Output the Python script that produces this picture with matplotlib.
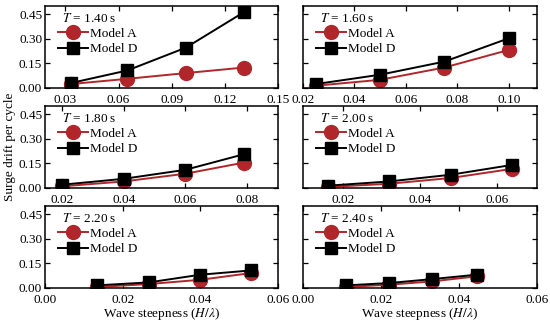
import matplotlib
matplotlib.use("Agg")
import matplotlib.pyplot as plt

plt.rcParams['font.family'] = ['Liberation Serif', 'DejaVu Serif']
plt.rcParams['mathtext.fontset'] = 'stix'

periods = ["1.40", "1.60", "1.80", "2.00", "2.20", "2.40"]

x_140 = [0.033, 0.065, 0.098, 0.131]
a_140 = [0.024, 0.056, 0.091, 0.125]
d_140 = [0.030, 0.107, 0.246, 0.464]

x_160 = [0.025, 0.050, 0.075, 0.100]
a_160 = [0.014, 0.050, 0.125, 0.232]
d_160 = [0.024, 0.081, 0.161, 0.303]

x_180 = [0.020, 0.040, 0.060, 0.079]
a_180 = [0.010, 0.040, 0.087, 0.155]
d_180 = [0.020, 0.056, 0.111, 0.206]

x_200 = [0.016, 0.032, 0.048, 0.064]
a_200 = [0.006, 0.026, 0.061, 0.117]
d_200 = [0.014, 0.040, 0.081, 0.141]

x_220 = [0.0133, 0.0267, 0.040, 0.053]
a_220 = [0.006, 0.024, 0.050, 0.091]
d_220 = [0.016, 0.034, 0.081, 0.107]

x_240 = [0.011, 0.022, 0.033, 0.0445]
a_240 = [0.006, 0.020, 0.040, 0.071]
d_240 = [0.016, 0.030, 0.054, 0.081]

xs = [x_140, x_160, x_180, x_200, x_220, x_240]
As = [a_140, a_160, a_180, a_200, a_220, a_240]
Ds = [d_140, d_160, d_180, d_200, d_220, d_240]

xlims = [(0.0185, 0.15), (0.02, 0.111), (0.0145, 0.09), (0.0096, 0.0704), (0.0, 0.06), (0.0, 0.06)]
xticks = [[0.03, 0.06, 0.09, 0.12, 0.15], [0.02, 0.04, 0.06, 0.08, 0.10],
          [0.02, 0.04, 0.06, 0.08], [0.02, 0.04, 0.06],
          [0.00, 0.02, 0.04, 0.06], [0.00, 0.02, 0.04, 0.06]]
yticks = [0.00, 0.15, 0.30, 0.45]

red = '#b0262b'
fig = plt.figure(figsize=(5.5, 3.24), dpi=100)
W, H = 550, 324
cols = [(45, 278), (303, 537)]
rows = [(6, 88), (106, 188), (206, 288)]
fs = 9.5

for i in range(6):
    r, c = divmod(i, 2)
    x0, x1 = cols[c]
    t0, b0 = rows[r]
    ax = fig.add_axes([x0 / W, 1 - b0 / H, (x1 - x0) / W, (b0 - t0) / H])
    ax.plot(xs[i], As[i], '-o', color=red, mfc=red, mec=red, ms=10, lw=1.4, label='Model A')
    ax.plot(xs[i], Ds[i], '-s', color='black', ms=9, lw=1.4, label='Model D')
    ax.set_xlim(*xlims[i])
    ax.set_ylim(0, 0.5)
    ax.set_xticks(xticks[i])
    ax.set_xticklabels([f"{v:.2f}" for v in xticks[i]], fontsize=fs)
    ax.set_yticks(yticks)
    if c == 0:
        ax.set_yticklabels([f"{v:.2f}" for v in yticks], fontsize=fs)
    else:
        ax.set_yticklabels([])
    ax.tick_params(axis='y', direction='in', right=True, length=3.5, width=0.9, pad=2)
    ax.tick_params(axis='x', direction='in', top=True, length=3.5, width=0.9, pad=4.5)
    for s in ax.spines.values():
        s.set_linewidth(1.1)
    leg = ax.legend(loc='upper left', bbox_to_anchor=(0.03, 1.0),
                    title=f"$T$ = {periods[i]} s", fontsize=fs,
                    title_fontsize=fs, frameon=False, handlelength=2.3,
                    handletextpad=0.15, labelspacing=0.22, borderaxespad=0.3,
                    borderpad=0.15)
    leg._legend_box.align = 'left'
    leg.get_title().set_position((4, 0))
    if r == 2:
        ax.set_xlabel(r"Wave steepness ($H/\lambda$)", fontsize=fs, labelpad=0)

fig.text(10 / W, 1 - 147 / H, "Surge drift per cycle", rotation=90, va='center', ha='center',
         fontsize=fs)

fig.savefig("out.png", dpi=100)
